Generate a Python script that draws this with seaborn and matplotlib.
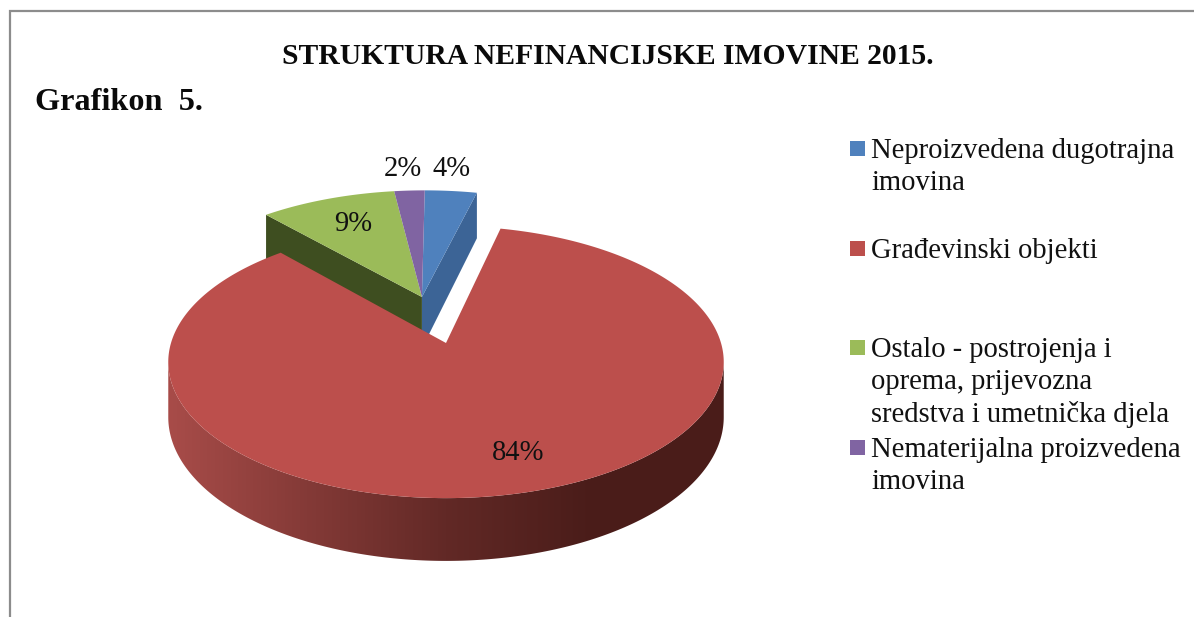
import numpy as np
import seaborn as sns
import matplotlib.pyplot as plt
from matplotlib.patches import Polygon, Rectangle
from matplotlib.colors import ListedColormap

title = "STRUKTURA NEFINANCIJSKE IMOVINE 2015."
subtitle = "Grafikon  5."
categories = [
    "Neproizvedena dugotrajna\nimovina",
    "Građevinski objekti",
    "Ostalo - postrojenja i\noprema, prijevozna\nsredstva i umetnička djela",
    "Nematerijalna proizvedena\nimovina",
]
shares = [3.6, 84.4, 9.4, 2.1]
colors = ["#4F81BD", "#BC4F4C", "#9BBB59", "#8064A2"]

# pie geometry, all in pixels of the figure
cx, cy = 446, 343
rx, ry, tilt, depth = 275, 133.4, 0.14, 54
pulled = (-0.092, 0.3625)  # centre of the three slices that stay apart from the red one


def project(u, v, z=0.0):
    s = 1 / (1 + tilt * np.asarray(v))
    return cx + rx * np.asarray(u) * s, cy - ry * np.asarray(v) * s + depth * z * s


def rim(a0, a1, n=200):
    a = np.linspace(a0, a1, n)
    return np.sin(a), np.cos(a)


sns.set_theme(style="white")
plt.rcParams["font.family"] = ["Liberation Serif", "DejaVu Serif"]

fig = plt.figure(figsize=(11.94, 6.17), dpi=100)
ax = fig.add_axes([0, 0, 1, 1])
ax.axis("off")

edges = np.concatenate([[0], np.cumsum(shares)]) / sum(shares) * 2 * np.pi
edges = [(edges[i], edges[i + 1]) for i in range(len(shares))]
palette = sns.color_palette(colors)

# radial walls of the pulled slices
ou, ov = pulled
for (a, col) in [(edges[0][1], "#3C6496"), (edges[2][0], "#3E4E20")]:
    u, v = np.sin(a) + ou, np.cos(a) + ov
    x0, y0 = project(ou, ov)
    x1, y1 = project(u, v)
    x2, y2 = project(u, v, 1)
    x3, y3 = project(ou, ov, 1)
    ax.fill([x0, x1, x2, x3], [y0, y1, y2, y3], color=col, lw=0)

# top faces of the pulled slices
for i in [0, 2, 3]:
    u, v = rim(*edges[i])
    x, y = project(np.r_[ou, u + ou], np.r_[ov, v + ov])
    ax.fill(x, y, color=palette[i], lw=0)

# red outer wall, only the near side between the two widest points, shaded left to right
ru, rv = rim(*edges[1], n=420)
rxs, rys = project(ru, rv)
rxb, ryb = project(ru, rv, 1)
i0, i1 = np.argmax(rxs), np.argmin(rxs)
shade = sns.blend_palette(["#A84C49", "#843A37", "#622926", "#4B1D1A", "#4A1C19"], 256)
wall = Polygon(np.c_[np.r_[rxs[i0:i1 + 1], rxb[i0:i1 + 1][::-1]],
                     np.r_[rys[i0:i1 + 1], ryb[i0:i1 + 1][::-1]]], closed=True,
               transform=ax.transData, fc="none", lw=0)
ax.add_patch(wall)
grad = ax.imshow(np.linspace(0, 1, 256)[None, :], cmap=ListedColormap(shade), aspect="auto",
                 extent=(168, 724, 580, 180), zorder=1.5)
grad.set_clip_path(wall)

# red top face
x, y = project(np.r_[0, ru], np.r_[0, rv])
ax.fill(x, y, color=palette[1], lw=0, zorder=2)

# percentage labels
label_pos = [(452, 169), (518, 453), (353, 224), (403, 169)]
for val, (px, py) in zip(shares, label_pos):
    ax.text(px, py, f"{val:.0f}%", ha="center", va="center", fontsize=20.6, color="#111111", zorder=3)

# legend
legend_y = [141, 241, 340, 440]
for lab, col, ly in zip(categories, colors, legend_y):
    ax.add_patch(Rectangle((850, ly), 15, 15, color=col, lw=0))
    ax.text(871, ly - 3, lab, ha="left", va="top", fontsize=20.6,
            linespacing=1.3, color="#111111")

# titles
ax.text(608, 57, title, ha="center", va="center", fontsize=21.3, fontweight="bold", color="#0a0a0a")
ax.text(35, 102, subtitle, ha="left", va="center", fontsize=23.2, fontweight="bold", color="#0a0a0a")

# frame, only top and left survive the crop
ax.plot([9.5, 9.5, 1194], [617, 10.5, 10.5], color="#8c8c8c", lw=1.6, solid_joinstyle="miter")

ax.set_xlim(0, 1194)
ax.set_ylim(617, 0)

fig.savefig("out.png", dpi=100)
